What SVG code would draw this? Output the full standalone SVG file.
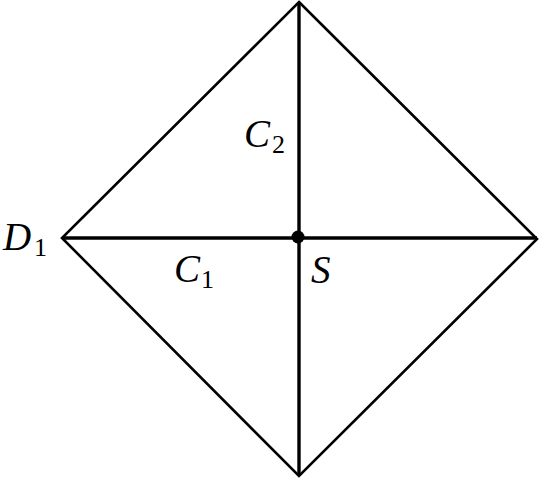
<svg xmlns="http://www.w3.org/2000/svg" width="539" height="480" viewBox="0 0 539 480">
<style>
.edge{stroke:#000;stroke-width:2.6;fill:none;stroke-linejoin:miter}
.axis{stroke:#000;stroke-width:3.4;fill:none}
.lbl{font-family:"Liberation Serif","DejaVu Serif",serif;font-style:italic;font-size:39px;fill:#000}
.sub{font-family:"Liberation Serif","DejaVu Serif",serif;font-style:normal;font-size:26px;fill:#000}
</style>
<rect width="539" height="480" fill="#fff"/>
<g id="connectors">
<polygon class="edge" points="299,2 537,239 299,476 62,238"/>
<line class="axis" x1="62" y1="238" x2="537" y2="238"/>
<line class="axis" x1="299" y1="2" x2="299" y2="476"/>
</g>
<g id="S">
<circle cx="298" cy="237" r="6.5" fill="#000"/>
<text class="lbl" x="311" y="283">S</text>
</g>
<g id="D1">
<text class="lbl" x="3" y="250">D</text>
<text class="sub" x="34" y="256">1</text>
</g>
<g id="C2">
<text class="lbl" x="244" y="147">C</text>
<text class="sub" x="272" y="153">2</text>
</g>
<g id="C1">
<text class="lbl" x="174" y="282">C</text>
<text class="sub" x="201" y="288">1</text>
</g>
</svg>
